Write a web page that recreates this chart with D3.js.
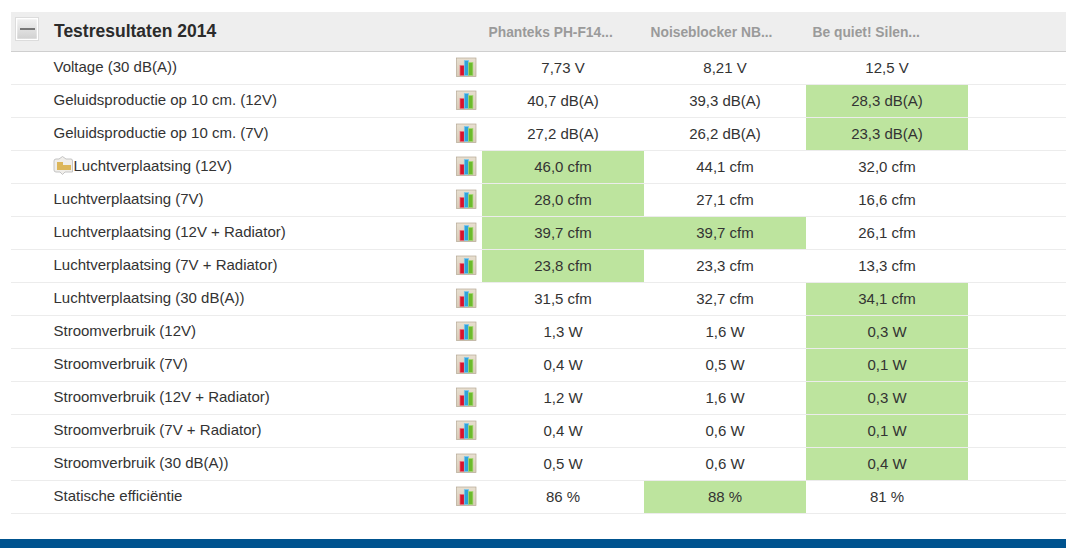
<!DOCTYPE html>
<html>
<head>
<meta charset="utf-8">
<script src="https://cdnjs.cloudflare.com/ajax/libs/d3/7.8.5/d3.min.js"></script>
<style>
  html, body { margin: 0; padding: 0; background: #fff; overflow: hidden; }
  svg { display: block; }
  text { font-family: "Liberation Sans", Arial, sans-serif; }
</style>
</head>
<body>
<div class="canvas"></div>
<script>
const title = 'Testresultaten 2014';
const products = ['Phanteks PH-F14...', 'Noiseblocker NB...', 'Be quiet! Silen...'];
const specs = [
  'Voltage (30 dB(A))',
  'Geluidsproductie op 10 cm. (12V)',
  'Geluidsproductie op 10 cm. (7V)',
  'Luchtverplaatsing (12V)',
  'Luchtverplaatsing (7V)',
  'Luchtverplaatsing (12V + Radiator)',
  'Luchtverplaatsing (7V + Radiator)',
  'Luchtverplaatsing (30 dB(A))',
  'Stroomverbruik (12V)',
  'Stroomverbruik (7V)',
  'Stroomverbruik (12V + Radiator)',
  'Stroomverbruik (7V + Radiator)',
  'Stroomverbruik (30 dB(A))',
  'Statische efficiëntie'
];
const phanteks = ['7,73 V', '40,7 dB(A)', '27,2 dB(A)', '46,0 cfm', '28,0 cfm', '39,7 cfm', '23,8 cfm', '31,5 cfm', '1,3 W', '0,4 W', '1,2 W', '0,4 W', '0,5 W', '86 %'];
const noiseblocker = ['8,21 V', '39,3 dB(A)', '26,2 dB(A)', '44,1 cfm', '27,1 cfm', '39,7 cfm', '23,3 cfm', '32,7 cfm', '1,6 W', '0,5 W', '1,6 W', '0,6 W', '0,6 W', '88 %'];
const bequiet = ['12,5 V', '28,3 dB(A)', '23,3 dB(A)', '32,0 cfm', '16,6 cfm', '26,1 cfm', '13,3 cfm', '34,1 cfm', '0,3 W', '0,1 W', '0,3 W', '0,1 W', '0,4 W', '81 %'];
// which cells are the best of their row (green)
const bestPhanteks = [3, 4, 5, 6];
const bestNoiseblocker = [5, 13];
const bestBequiet = [1, 2, 7, 8, 9, 10, 11, 12];

const series = [phanteks, noiseblocker, bequiet];
const best = [bestPhanteks, bestNoiseblocker, bestBequiet];

const width = 1066;
const height = 548;

const svg = d3.select('.canvas').append('svg')
  .attr('width', width)
  .attr('height', height);

// scales
const y = d3.scaleBand().domain(d3.range(specs.length)).range([51, 513]);
const x = d3.scaleBand().domain(products).range([482, 968]);

const rowText = i => y(i) + 20.5;

// header band
svg.append('rect').attr('x', 11).attr('y', 12).attr('width', width - 11).attr('height', 39).attr('fill', '#eeeeee');
svg.append('line').attr('x1', 11).attr('x2', width).attr('y1', 51.5).attr('y2', 51.5).attr('stroke', '#cfcfcf');

// collapse button
const defs = svg.append('defs');
const grad = defs.append('linearGradient').attr('id', 'btn').attr('x2', 0).attr('y2', 1);
grad.append('stop').attr('offset', 0).attr('stop-color', '#f2f2f2');
grad.append('stop').attr('offset', 1).attr('stop-color', '#d0d0d0');
svg.append('rect').attr('x', 16.5).attr('y', 18.5).attr('width', 21).attr('height', 21)
  .attr('fill', 'url(#btn)').attr('stroke', '#fff').attr('stroke-width', 1.5);
svg.append('rect').attr('x', 15.5).attr('y', 17.5).attr('width', 23).attr('height', 23)
  .attr('fill', 'none').attr('stroke', '#dcdcdc');
svg.append('rect').attr('x', 20).attr('y', 28).attr('width', 15).attr('height', 2).attr('fill', '#777');

svg.append('text').attr('x', 54).attr('y', 37)
  .attr('font-size', 17.5).attr('font-weight', 'bold').attr('fill', '#2b2b2b').text(title);

svg.selectAll('.product').data(products).join('text')
  .attr('class', 'product')
  .attr('x', d => x(d) + 6.5)
  .attr('y', 37)
  .attr('font-size', 13.8).attr('font-weight', 'bold').attr('fill', '#9a9a9a')
  .text(d => d);

// green cells
series.forEach((values, c) => {
  svg.selectAll(`.best${c}`).data(best[c]).join('rect')
    .attr('class', `best${c}`)
    .attr('x', x(products[c]))
    .attr('y', d => y(d))
    .attr('width', x.bandwidth())
    .attr('height', y.bandwidth())
    .attr('fill', '#bde49e');
});

// row lines
svg.selectAll('.sep').data(specs).join('line')
  .attr('class', 'sep')
  .attr('x1', 11).attr('x2', width)
  .attr('y1', (d, i) => y(i) + y.bandwidth() + 0.5)
  .attr('y2', (d, i) => y(i) + y.bandwidth() + 0.5)
  .attr('stroke', '#ececec');

// labels
svg.selectAll('.spec').data(specs).join('text')
  .attr('class', 'spec')
  .attr('x', (d, i) => i === 3 ? 73.5 : 53.5)
  .attr('y', (d, i) => rowText(i))
  .attr('font-size', 15).attr('fill', '#333')
  .text(d => d);

// values
series.forEach((values, c) => {
  svg.selectAll(`.val${c}`).data(values).join('text')
    .attr('class', `val${c}`)
    .attr('x', x(products[c]) + x.bandwidth() / 2)
    .attr('y', (d, i) => rowText(i) + 1)
    .attr('text-anchor', 'middle')
    .attr('font-size', 15).attr('fill', '#333')
    .text(d => d);
});

// chart icons
const barColors = ['#d8132c', '#2fa3dc', '#6cbb2c'];
const barEdges = ['#ee6a78', '#7cc9ee', '#a3d873'];
const barHeights = [10, 15, 13];
const iconBg = defs.append('linearGradient').attr('id', 'iconBg').attr('x2', 0).attr('y2', 1);
iconBg.append('stop').attr('offset', 0).attr('stop-color', '#e8dfd0');
iconBg.append('stop').attr('offset', 1).attr('stop-color', '#d8ccb8');
const icons = svg.selectAll('.icon').data(specs).join('g')
  .attr('class', 'icon')
  .attr('transform', (d, i) => `translate(456.5, ${y(i) + 7})`);
icons.append('rect').attr('width', 19.5).attr('height', 18.5).attr('fill', 'url(#iconBg)').attr('stroke', '#b5a894').attr('stroke-width', 0.7);
barHeights.forEach((h, b) => {
  icons.append('rect')
    .attr('x', 3.5 + b * 4.3)
    .attr('y', 17.5 - h)
    .attr('width', 4.3)
    .attr('height', h)
    .attr('fill', barColors[b])
    .attr('stroke', barEdges[b])
    .attr('stroke-width', 0.7);
});

// info icon in front of Luchtverplaatsing (12V)
const info = svg.append('g').attr('transform', `translate(53, ${y(3) + 6})`);
info.append('path').attr('d', 'M3,3 L6,3 L9.5,0.5 L13,3 L18,3 Q19.5,3 19.5,5 L19.5,16 L12,16 L9.5,18.5 L7,16 L3,16 Q1,16 1,14 L1,5 Q1,3 3,3 Z')
  .attr('fill', '#f0eeea').attr('stroke', '#c4c4c4');
info.append('rect').attr('x', 4).attr('y', 6).attr('width', 6).attr('height', 8).attr('fill', '#dcb65a');
info.append('rect').attr('x', 10).attr('y', 9).attr('width', 8).attr('height', 5).attr('fill', '#dcb65a');

// footer
svg.append('rect').attr('x', 0).attr('y', 539).attr('width', width).attr('height', 9).attr('fill', '#00538f');
</script>
</body>
</html>
